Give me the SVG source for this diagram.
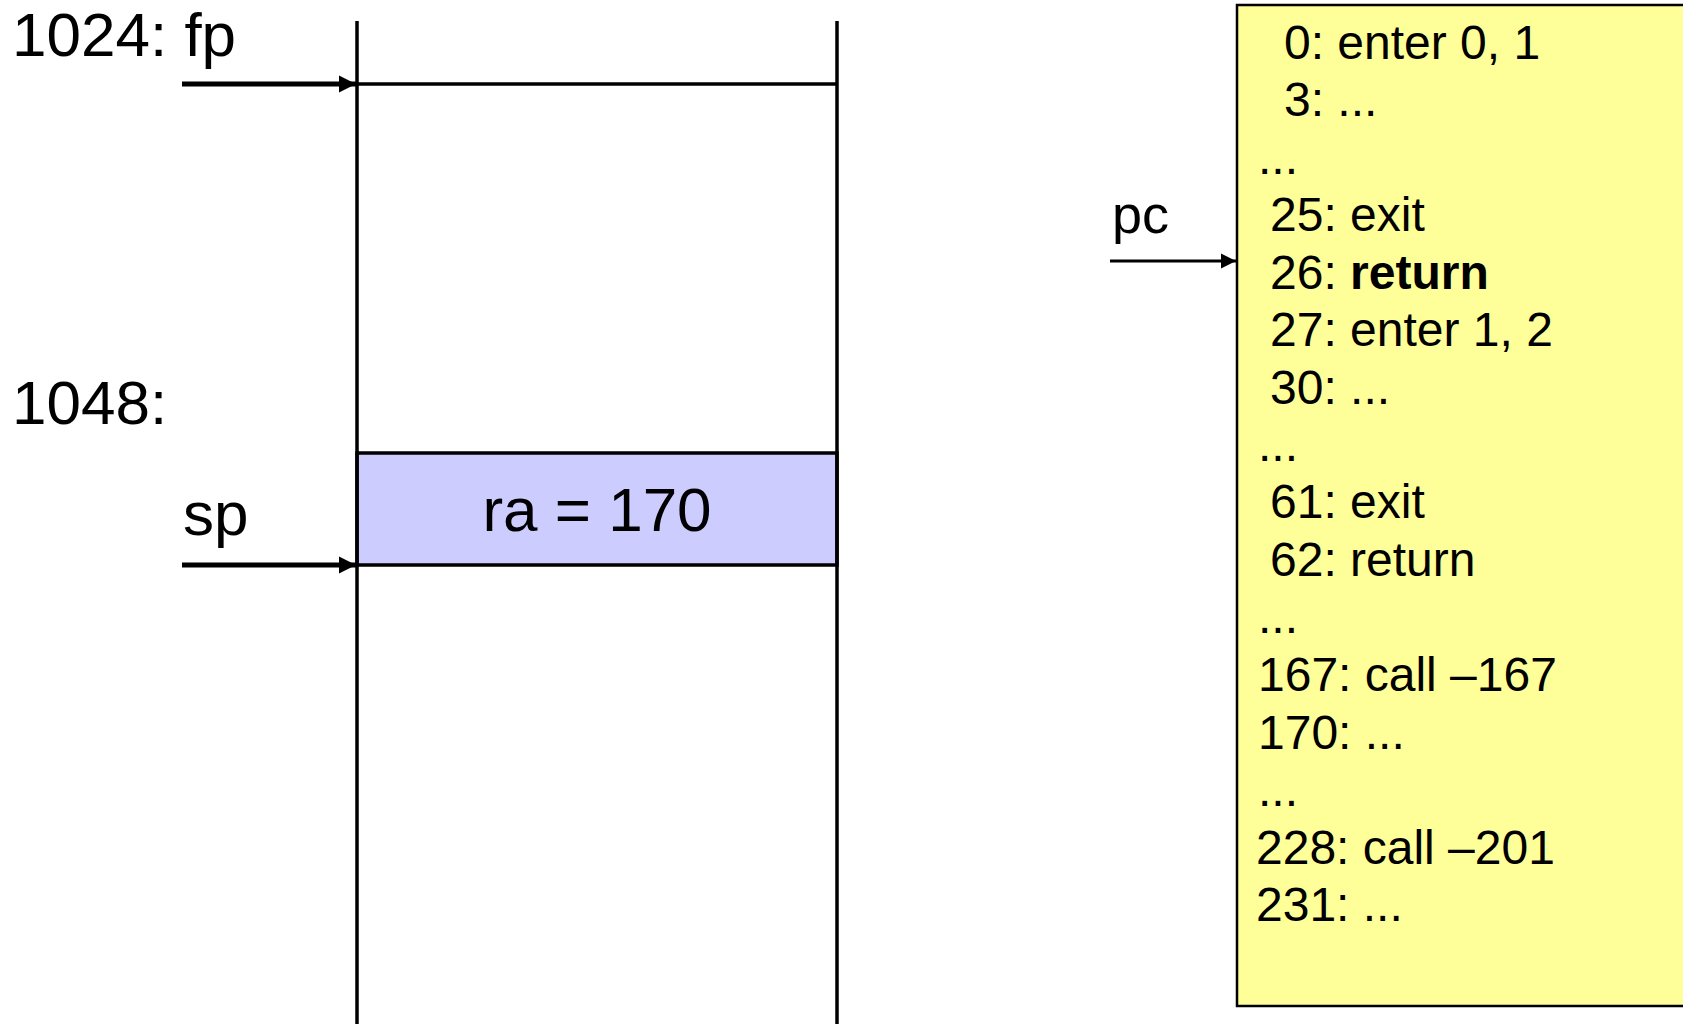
<svg xmlns="http://www.w3.org/2000/svg" width="1683" height="1024" viewBox="0 0 1683 1024">
<style>
text{font-family:"Liberation Sans",Arial,sans-serif;fill:#000}
.big{font-size:62px}
.code{font-size:48px}
.pc{font-size:54px}
.ln{stroke:#000;stroke-width:3.5;fill:none}
.ptr{stroke:#000;stroke-width:5;fill:none}
.ptr2{stroke:#000;stroke-width:3;fill:none}
</style>
<defs>
<marker id="ah" viewBox="0 0 10 10" refX="10" refY="5" markerWidth="3.4" markerHeight="3.6" orient="auto" markerUnits="strokeWidth"><path d="M0,0 L10,5 L0,10 Z" fill="#000"/></marker>
<marker id="ah2" viewBox="0 0 10 10" refX="10" refY="5" markerWidth="5" markerHeight="5.5" orient="auto" markerUnits="strokeWidth"><path d="M0,0 L10,5 L0,10 Z" fill="#000"/></marker>
</defs>
<rect width="1683" height="1024" fill="#fff"/>
<g id="stack">
<rect x="357" y="453" width="480" height="112" fill="#CCCCFF" stroke="#000" stroke-width="3.5"/>
<line class="ln" x1="357" y1="84" x2="837" y2="84"/>
<line class="ln" x1="357" y1="21" x2="357" y2="1024"/>
<line class="ln" x1="837" y1="21" x2="837" y2="1024"/>
<text class="big" x="597" y="531" text-anchor="middle">ra = 170</text>
</g>
<g id="labels">
<text class="big" x="12" y="56">1024: fp</text>
<text class="big" x="12" y="424">1048:</text>
<text class="big" x="183" y="535">sp</text>
<text class="pc" x="1112" y="233">pc</text>
</g>
<g id="code">
<rect x="1237" y="5" width="460" height="1001" fill="#FFFF99" stroke="#000" stroke-width="2.5"/>
<text class="code" x="1284" y="59">0: enter 0, 1</text>
<text class="code" x="1284" y="116">3: ...</text>
<text class="code" x="1258" y="174">...</text>
<text class="code" x="1270" y="231">25: exit</text>
<text class="code" x="1270" y="289">26: <tspan font-weight="bold">return</tspan></text>
<text class="code" x="1270" y="346">27: enter 1, 2</text>
<text class="code" x="1270" y="404">30: ...</text>
<text class="code" x="1258" y="461">...</text>
<text class="code" x="1270" y="518">61: exit</text>
<text class="code" x="1270" y="576">62: return</text>
<text class="code" x="1258" y="633">...</text>
<text class="code" x="1258" y="691">167: call –167</text>
<text class="code" x="1258" y="749">170: ...</text>
<text class="code" x="1258" y="806">...</text>
<text class="code" x="1256" y="864">228: call –201</text>
<text class="code" x="1256" y="921">231: ...</text>
</g>
<g id="connectors">
<line class="ptr" x1="182" y1="84" x2="356" y2="84" marker-end="url(#ah)"/>
<line class="ptr" x1="182" y1="565" x2="356" y2="565" marker-end="url(#ah)"/>
<line class="ptr2" x1="1110" y1="261" x2="1236" y2="261" marker-end="url(#ah2)"/>
</g>
</svg>
